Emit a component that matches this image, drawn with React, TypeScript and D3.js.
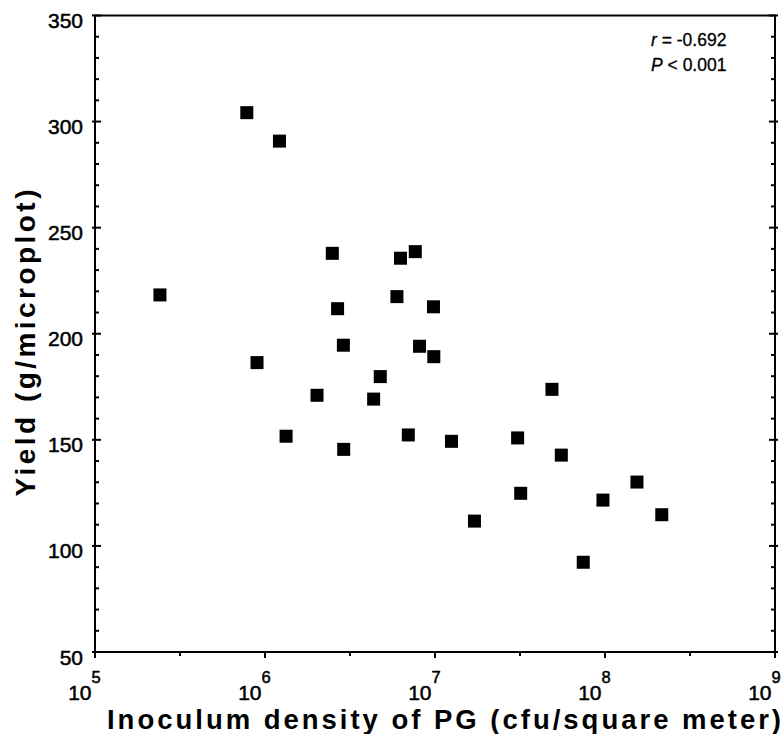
import React from "react";
import * as d3 from "d3";

// Inoculum density (log10 cfu/m²) and yield (g/microplot)
const logDensity = [
  5.382, 5.893, 6.085, 5.953, 6.124, 6.306, 6.396, 6.427, 6.461, 6.463,
  6.639, 6.678, 6.776, 6.797, 6.843, 6.884, 6.909, 6.991, 6.993, 7.097,
  7.232, 7.486, 7.504, 7.688, 7.743, 7.872, 7.988, 8.188, 8.334,
];
const yieldValues = [
  218.3, 304.2, 290.8, 186.4, 151.7, 171.0, 237.9, 211.8, 194.6, 145.5,
  169.2, 179.8, 217.5, 235.6, 152.3, 238.7, 194.1, 212.7, 189.2, 149.3,
  111.7, 150.9, 124.8, 173.8, 142.8, 92.3, 121.6, 130.1, 114.7,
];
const xExponents = [5, 6, 7, 8, 9];
const yTicks = [50, 100, 150, 200, 250, 300, 350];
const statLines = [
  { sym: "r", rest: " = -0.692" },
  { sym: "P", rest: " < 0.001" },
];
const xTitle = "Inoculum density of PG (cfu/square meter)";
const yTitle = "Yield (g/microplot)";

const W = 784;
const H = 734;
const left = 95;
const right = 775;
const top = 15.5;
const bottom = 652;
const FONT = "'Liberation Sans', Arial, Helvetica, sans-serif";

export default function App() {
  const x = d3.scaleLog().domain([1e5, 1e9]).range([left, right]);
  const y = d3.scaleLinear().domain([50, 350]).range([bottom, top]);

  const minorY = d3.range(50, 351, 10);
  const minorX = xExponents.slice(0, -1).map((e) => Math.pow(10, e + 0.5));
  const sq = 13;

  return (
    <svg
      width={W}
      height={H}
      style={{ position: "absolute", left: 0, top: 0, background: "#fff" }}
      fontFamily={FONT}
    >
      <rect x={0} y={0} width={W} height={H} fill="#fff" />
      {/* frame */}
      <rect
        x={left}
        y={top}
        width={right - left}
        height={bottom - top}
        fill="none"
        stroke="#000"
        strokeWidth={2}
      />
      {/* y ticks, left and right, pointing inward */}
      {minorY.map((v) => {
        const major = v % 50 === 0;
        const len = major ? 6 : 4;
        return (
          <g key={"yt" + v} stroke="#000" strokeWidth={2}>
            <line x1={left - (major ? 3 : 0)} x2={left + len} y1={y(v)} y2={y(v)} />
            <line x1={right - len} x2={right + (major ? 3 : 0)} y1={y(v)} y2={y(v)} />
          </g>
        );
      })}
      {/* x ticks pointing outward */}
      {xExponents.map((e) => (
        <line
          key={"xt" + e}
          x1={x(Math.pow(10, e))}
          x2={x(Math.pow(10, e))}
          y1={bottom}
          y2={bottom + 6}
          stroke="#000"
          strokeWidth={2}
        />
      ))}
      {minorX.map((v, i) => (
        <line
          key={"xm" + i}
          x1={x(v)}
          x2={x(v)}
          y1={bottom}
          y2={bottom + 4}
          stroke="#000"
          strokeWidth={2}
        />
      ))}
      {/* y tick labels */}
      {yTicks.map((v) => (
        <text
          key={"yl" + v}
          x={83}
          y={y(v) + 12.5}
          textAnchor="end"
          fontSize={21}
          fill="#000"
          stroke="#000"
          strokeWidth={0.5}
        >
          {v}
        </text>
      ))}
      {/* x tick labels: "10" plus superscript exponent */}
      {xExponents.map((e) => (
        <g key={"xl" + e} fill="#000" stroke="#000" strokeWidth={0.5}>
          <text x={x(Math.pow(10, e)) - 3.5} y={700} textAnchor="end" fontSize={21}>
            10
          </text>
          <text x={x(Math.pow(10, e)) - 3.5} y={683} textAnchor="start" fontSize={16.5}>
            {e}
          </text>
        </g>
      ))}
      {/* points */}
      {logDensity.map((ld, i) => (
        <rect
          key={"p" + i}
          x={x(Math.pow(10, ld)) - sq / 2}
          y={y(yieldValues[i]) - sq / 2}
          width={sq}
          height={sq}
          fill="#000"
        />
      ))}
      {/* stats */}
      {statLines.map((s, i) => (
        <text
          key={"s" + i}
          x={651}
          y={45.5 + i * 25}
          fontSize={17.5}
          fill="#000"
          stroke="#000"
          strokeWidth={0.3}
        >
          <tspan fontStyle="italic">{s.sym}</tspan>
          {s.rest}
        </text>
      ))}
      {/* axis titles */}
      <text
        x={444}
        y={729}
        textAnchor="middle"
        fontSize={27.5}
        fontWeight="bold"
        fill="#000"
        textLength={674}
        lengthAdjust="spacing"
      >
        {xTitle}
      </text>
      <text
        transform="translate(35,343) rotate(-90)"
        textAnchor="middle"
        fontSize={28}
        fontWeight="bold"
        fill="#000"
        textLength={307}
        lengthAdjust="spacing"
      >
        {yTitle}
      </text>
    </svg>
  );
}
